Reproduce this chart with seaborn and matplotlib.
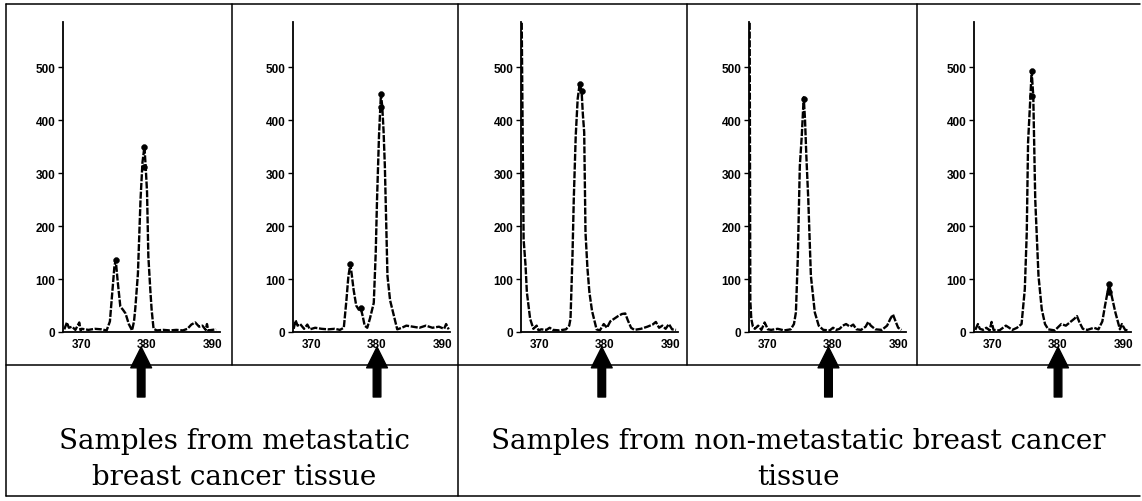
import numpy as np
import pandas as pd
import seaborn as sns
import matplotlib.pyplot as plt
from matplotlib.lines import Line2D

# spectra, one pair of arrays per sample
x1 = [367.3, 367.7, 368.0, 368.5, 369.0, 369.6, 369.8, 370.0, 371.0, 372.0, 373.0, 373.8, 374.3, 374.7, 375.0,
      375.2, 375.5, 375.9, 376.3, 376.7, 377.2, 377.7, 378.0, 378.2, 378.6, 379.0, 379.3, 379.6, 379.8, 380.0,
      380.2, 380.5, 380.7, 381.0, 381.5, 382.5, 383.5, 384.5, 385.5, 386.2, 386.8, 387.4, 388.0, 388.5, 389.0,
      389.2, 389.4, 390.0, 390.6]
y1 = [5, 18, 8, 10, 4, 18, 3, 6, 4, 6, 5, 3, 20, 80, 125,
      135, 95, 48, 42, 35, 15, 3, 20, 45, 110, 250, 320, 350, 310, 264,
      143, 80, 43, 6, 3, 4, 3, 4, 3, 6, 14, 18, 10, 12, 4,
      15, 3, 4, 5]

x2 = [367.2, 367.5, 367.8, 368.2, 368.8, 369.3, 369.7, 370.5, 371.5, 372.5, 373.5, 374.3, 374.9, 375.3, 375.6,
      375.9, 376.1, 376.4, 376.8, 377.2, 377.5, 377.8, 378.1, 378.5, 378.9, 379.2, 379.5, 379.8, 380.0, 380.3,
      380.6, 380.8, 381.0, 381.2, 381.6, 382.0, 382.6, 383.1, 383.8, 384.5, 385.5, 386.5, 387.5, 388.5, 389.5,
      390.3, 390.6, 391.0]
y2 = [6, 22, 12, 15, 6, 14, 5, 8, 6, 5, 6, 4, 8, 60, 105,
      128, 110, 80, 50, 42, 45, 30, 12, 8, 25, 40, 55, 150, 250, 370,
      450, 425, 380, 313, 106, 60, 30, 5, 8, 12, 10, 8, 12, 8, 10,
      6, 15, 5]

x3 = [367.2, 367.35, 367.5, 367.8, 368.0, 368.5, 369.0, 369.5, 369.8, 370.2, 371.0, 371.5, 372.0, 373.0, 374.0,
      374.5, 374.7, 375.0, 375.2, 375.5, 375.8, 376.1, 376.4, 376.6, 376.8, 377.0, 377.3, 377.6, 378.0, 378.3,
      378.7, 379.2, 379.8, 380.3, 380.8, 381.4, 382.0, 382.6, 383.1, 383.5, 384.0, 384.5, 385.5, 386.5, 387.3,
      387.8, 388.3, 388.8, 389.3, 389.8, 390.3, 390.9]
y3 = [600, 380, 175, 125, 75, 25, 6, 12, 3, 5, 4, 8, 4, 3, 5,
      12, 25, 143, 250, 370, 440, 468, 455, 410, 377, 188, 120, 75, 40, 25,
      5, 3, 15, 8, 20, 25, 30, 34, 35, 22, 8, 4, 6, 10, 14,
      19, 8, 12, 6, 15, 5, 4]

x4 = [367.2, 367.3, 367.45, 367.7, 368.0, 368.5, 369.0, 369.5, 370.0, 370.5, 371.5, 372.5, 373.5, 374.0, 374.3,
      374.6, 374.9, 375.2, 375.5, 375.7, 375.9, 376.2, 376.6, 377.2, 377.8, 378.5, 379.5, 380.0, 380.5, 381.0,
      381.5, 382.0, 382.6, 383.1, 383.6, 384.3, 385.0, 385.4, 385.8, 386.5, 387.5, 388.3, 388.8, 389.2, 389.6,
      390.0, 390.5]
y4 = [600, 60, 25, 10, 6, 12, 4, 18, 5, 4, 6, 3, 5, 15, 37,
      143, 313, 370, 443, 400, 333, 250, 106, 37, 12, 4, 3, 8, 4, 6,
      12, 15, 10, 14, 5, 4, 10, 19, 12, 5, 4, 12, 25, 33, 20,
      8, 4]

x5 = [367.3, 367.7, 368.0, 368.5, 369.0, 369.5, 369.8, 370.1, 371.0, 372.0, 373.0, 373.7, 374.4, 374.9, 375.2,
      375.4, 375.7, 375.95, 376.2, 376.5, 377.0, 377.5, 378.0, 378.5, 379.5, 380.5, 381.2, 381.8, 382.5, 382.9,
      383.3, 383.8, 384.5, 385.5, 386.2, 386.8, 387.2, 387.6, 387.85, 388.2, 388.8, 389.5, 389.8, 390.3, 390.8]
y5 = [4, 15, 6, 4, 8, 3, 19, 4, 3, 12, 4, 8, 15, 81, 188,
      358, 430, 492, 445, 250, 106, 43, 15, 5, 3, 15, 12, 18, 25, 30,
      18, 6, 4, 8, 5, 20, 49, 75, 90, 70, 37, 5, 15, 4, 3]

# dotted peak markers
peak_x = [[375.2, 379.6, 379.6], [375.9, 377.5, 380.6, 380.6], [376.1, 376.5], [375.5], [375.95, 375.95, 387.85, 387.85]]
peak_y = [[135, 350, 312], [128, 45, 450, 425], [468, 455], [440], [492, 445, 90, 75]]

arrow_x = [379.1, 380.0, 379.5, 379.3, 380.0]
x_ticks = [370, 380, 390]
y_ticks = [0, 100, 200, 300, 400, 500]
left_text = "Samples from metastatic\nbreast cancer tissue"
right_text = "Samples from non-metastatic breast cancer\ntissue"

spectra = [(x1, y1), (x2, y2), (x3, y3), (x4, y4), (x5, y5)]

sns.set_style("white")
plt.rcParams['font.family'] = ['Liberation Sans', 'DejaVu Sans']
plt.rcParams['text.color'] = 'black'
plt.rcParams['xtick.color'] = 'black'
plt.rcParams['ytick.color'] = 'black'

W, H = 1142, 502
fig = plt.figure(figsize=(W / 100, H / 100), dpi=100)

# panel placement in pixels
ax_left = [63, 293, 521, 749, 974]
ax_w, ax_top, ax_bot = 157, 23, 333

def fx(px):
    return px / W

def fy(py):
    return 1 - py / H

for i, (xs, ys) in enumerate(spectra):
    ax = fig.add_axes([fx(ax_left[i]), fy(ax_bot), ax_w / W, (ax_bot - ax_top) / H])
    df = pd.DataFrame({'mz': xs, 'intensity': ys})
    sns.lineplot(data=df, x='mz', y='intensity', ax=ax, color='black', lw=1.7,
                 linestyle=(0, (3, 0.7)), sort=False)
    sns.scatterplot(x=peak_x[i], y=peak_y[i], ax=ax, color='black', s=18, edgecolor='black', zorder=5)
    ax.set_xlim(367.1, 391.2)
    ax.set_ylim(0, 585)
    ax.set_xticks(x_ticks)
    ax.set_yticks(y_ticks)
    ax.set_xlabel('')
    ax.set_ylabel('')
    for s in ['top', 'right']:
        ax.spines[s].set_visible(False)
    for s in ['left', 'bottom']:
        ax.spines[s].set_color('black')
        ax.spines[s].set_linewidth(1.3)
    ax.tick_params(axis='y', direction='out', length=3.5, width=1, pad=2, labelsize=8.5, left=True)
    ax.tick_params(axis='x', length=0, pad=4, labelsize=8.5)
    for lab in ax.get_xticklabels() + ax.get_yticklabels():
        lab.set_fontweight('bold')
    ax.patch.set_alpha(0)
    # arrow pointing at the 380 region
    ax.annotate('', xy=(arrow_x[i], fy(348)), xytext=(arrow_x[i], fy(398)),
                xycoords=('data', 'figure fraction'), textcoords=('data', 'figure fraction'),
                arrowprops=dict(facecolor='black', edgecolor='black', width=5.5, headwidth=15,
                                headlength=15, shrink=0),
                annotation_clip=False)

# frame lines of the figure layout
def line(x0, y0, x1, y1):
    fig.add_artist(Line2D([fx(x0), fx(x1)], [fy(y0), fy(y1)], color='black', lw=1.1))

line(6, 5, 1140, 5)
line(6, 497, 1140, 497)
line(6, 5, 6, 497)
line(6, 366, 1140, 366)
line(232, 5, 232, 366)
line(458, 5, 458, 497)
line(687, 5, 687, 366)
line(917, 5, 917, 366)

for j, row in enumerate(left_text.split('\n')):
    fig.text(fx(234), fy(442 + 36 * j), row, ha='center', va='center',
             fontsize=20, family='DejaVu Serif', color='black')
for j, row in enumerate(right_text.split('\n')):
    fig.text(fx(798), fy(442 + 36 * j), row, ha='center', va='center',
             fontsize=20, family='DejaVu Serif', color='black')

fig.savefig('out.png', dpi=100)
